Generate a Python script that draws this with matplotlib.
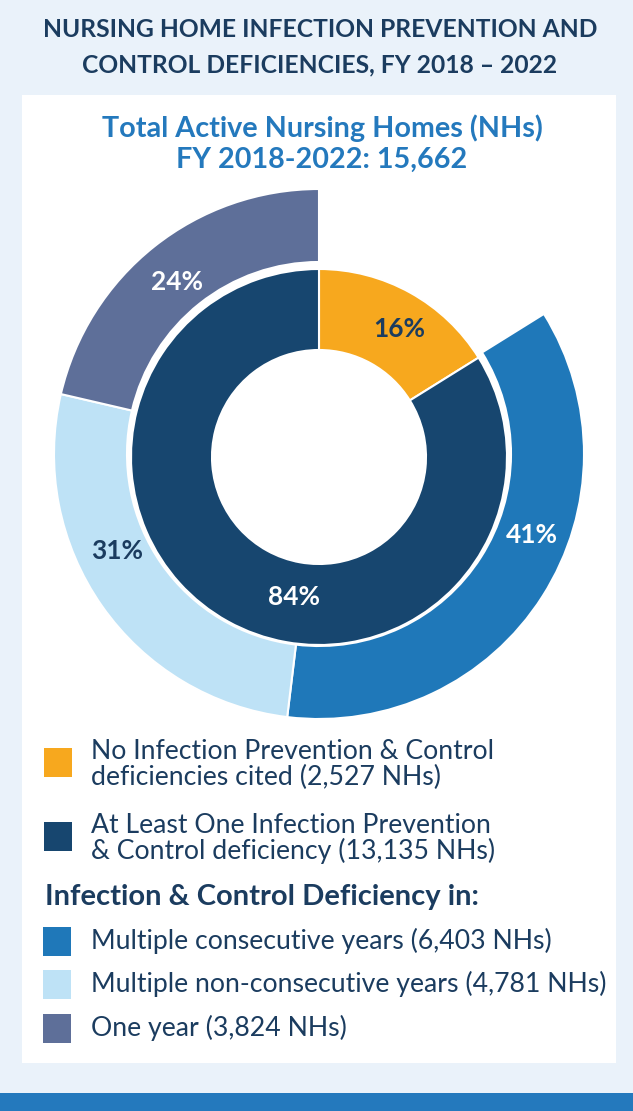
import matplotlib
matplotlib.use("Agg")
import matplotlib.pyplot as plt
from matplotlib.patches import Rectangle
import numpy as np

# ---------------- data ----------------
total_nhs = 15662
inner_labels = ["No Infection Prevention & Control\ndeficiencies cited",
                "At Least One Infection Prevention\n& Control deficiency"]
inner_counts = [2527, 13135]
outer_labels = ["Multiple consecutive years",
                "Multiple non-consecutive years",
                "One year"]
outer_counts = [6403, 4781, 3824]

title_lines = ["NURSING HOME INFECTION PREVENTION AND",
               "CONTROL DEFICIENCIES, FY 2018 \u2013 2022"]
subtitle_lines = ["Total Active Nursing Homes (NHs)",
                  f"FY 2018-2022: {total_nhs:,}"]
legend_header = "Infection & Control Deficiency in:"

# ---------------- style ----------------
W, H = 633, 1111
BG = "#EAF2FA"
TXT = "#1B3C5F"
SUB = "#2479BD"
inner_colors = ["#F7A81E", "#17466F"]
outer_colors = ["#1F78B9", "#BEE2F6", "#5E6F99"]
inner_label_colors = [TXT, "white"]
outer_label_colors = ["white", TXT, "white"]
FONT = "Lato"

fig = plt.figure(figsize=(W / 100, H / 100), dpi=100, facecolor=BG)


def fx(x):
    return x / W


def fy(y):
    return 1 - y / H


def fit(t, target):
    r = fig.canvas.get_renderer()
    w = t.get_window_extent(r).width
    t.set_fontsize(t.get_fontsize() * target / w)
    return t.get_fontsize()


# panel and bottom bar
fig.add_artist(Rectangle((fx(22), fy(1063)), (616 - 22) / W, (1063 - 95) / H,
                         transform=fig.transFigure, facecolor="white",
                         edgecolor="none", zorder=0))
fig.add_artist(Rectangle((0, 0), 1, (H - 1093) / H, transform=fig.transFigure,
                         facecolor=SUB, edgecolor="none", zorder=0))

# titles
t1 = fig.text(fx(320), fy(37), title_lines[0], ha="center", va="baseline",
              fontsize=20, fontweight="bold", color=TXT, family=FONT)
fs = fit(t1, 553)
fig.text(fx(320), fy(72), title_lines[1], ha="center", va="baseline",
         fontsize=fs, fontweight="bold", color=TXT, family=FONT)

s1 = fig.text(fx(322), fy(137), subtitle_lines[0], ha="center", va="baseline",
              fontsize=20, fontweight="bold", color=SUB, family=FONT)
fs = fit(s1, 440)
fig.text(fx(322), fy(168), subtitle_lines[1], ha="center", va="baseline",
         fontsize=fs, fontweight="bold", color=SUB, family=FONT)

# ---------------- donut ----------------
cx, cy = 319, 457
ax = fig.add_axes([fx(cx - 300), fy(cy + 300), 600 / W, 600 / H])

r_in_out, r_hole = 188, 107
r_out_out, r_out_in = 265, 192

ax.pie(inner_counts, radius=r_in_out, colors=inner_colors, startangle=90,
       counterclock=False,
       wedgeprops=dict(width=r_in_out - r_hole, edgecolor="white", linewidth=1.5))

outer_share = np.array(outer_counts) / np.sum(outer_counts) * inner_counts[1]
outer_vals = [inner_counts[0]] + list(outer_share)
wedges, _ = ax.pie(outer_vals, radius=r_out_out, center=(0, 3),
                   colors=["white"] + outer_colors, startangle=90,
                   counterclock=False,
                   wedgeprops=dict(width=r_out_out - r_out_in,
                                   edgecolor="white", linewidth=1.5))
wedges[0].set_visible(False)

ax.set_xlim(-300, 300)
ax.set_ylim(-300, 300)
ax.set_aspect("equal")
ax.axis("off")

# percentage labels (angle clockwise from top, radius)
inner_pos = [(32, 151), (190, 142)]
outer_pos = [(110, 227), (245, 223), (321, 225)]

pct_size = None
for cnt, (ang, rad), col in zip(inner_counts + outer_counts,
                                inner_pos + outer_pos,
                                inner_label_colors + outer_label_colors):
    a = np.deg2rad(ang)
    t = ax.text(rad * np.sin(a), rad * np.cos(a),
                f"{round(100 * cnt / total_nhs)}%", ha="center", va="center",
                fontsize=20 if pct_size is None else pct_size,
                fontweight="bold", color=col, family=FONT)
    if pct_size is None:
        pct_size = fit(t, 52)

# ---------------- legend ----------------
sq_x, sq_w, sq_h = 44, 28, 29
txt_x = 91
line_gap = 26

# legend text size: fit the widest line
probe = fig.text(0, 0, f"{outer_labels[1]} ({outer_counts[1]:,} NHs)",
                 fontsize=18, family=FONT)
leg_fs = fit(probe, 514)
probe.remove()

inner_baselines = [759, 833]
for lab, cnt, col, b in zip(inner_labels, inner_counts, inner_colors,
                            inner_baselines):
    lines = f"{lab} ({cnt:,} NHs)".split("\n")
    for i, ln in enumerate(lines):
        fig.text(fx(txt_x), fy(b + i * line_gap), ln, ha="left",
                 va="baseline", fontsize=leg_fs, color=TXT, family=FONT)
    mid = b - 10 + (len(lines) - 1) * line_gap / 2
    fig.add_artist(Rectangle((fx(sq_x), fy(mid + sq_h / 2)), sq_w / W, sq_h / H,
                             transform=fig.transFigure, facecolor=col,
                             edgecolor="none"))

hd = fig.text(fx(45), fy(905), legend_header, ha="left", va="baseline",
              fontsize=18, fontweight="bold", color=TXT, family=FONT)
fit(hd, 436)

outer_baselines = [949, 992, 1036]
for lab, cnt, col, b in zip(outer_labels, outer_counts, outer_colors,
                            outer_baselines):
    fig.text(fx(txt_x), fy(b), f"{lab} ({cnt:,} NHs)", ha="left",
             va="baseline", fontsize=leg_fs, color=TXT, family=FONT)
    mid = b - 7.5
    fig.add_artist(Rectangle((fx(sq_x - 1), fy(mid + sq_h / 2)), sq_w / W,
                             sq_h / H, transform=fig.transFigure,
                             facecolor=col, edgecolor="none"))

fig.savefig("out.png", dpi=100, facecolor=BG)
